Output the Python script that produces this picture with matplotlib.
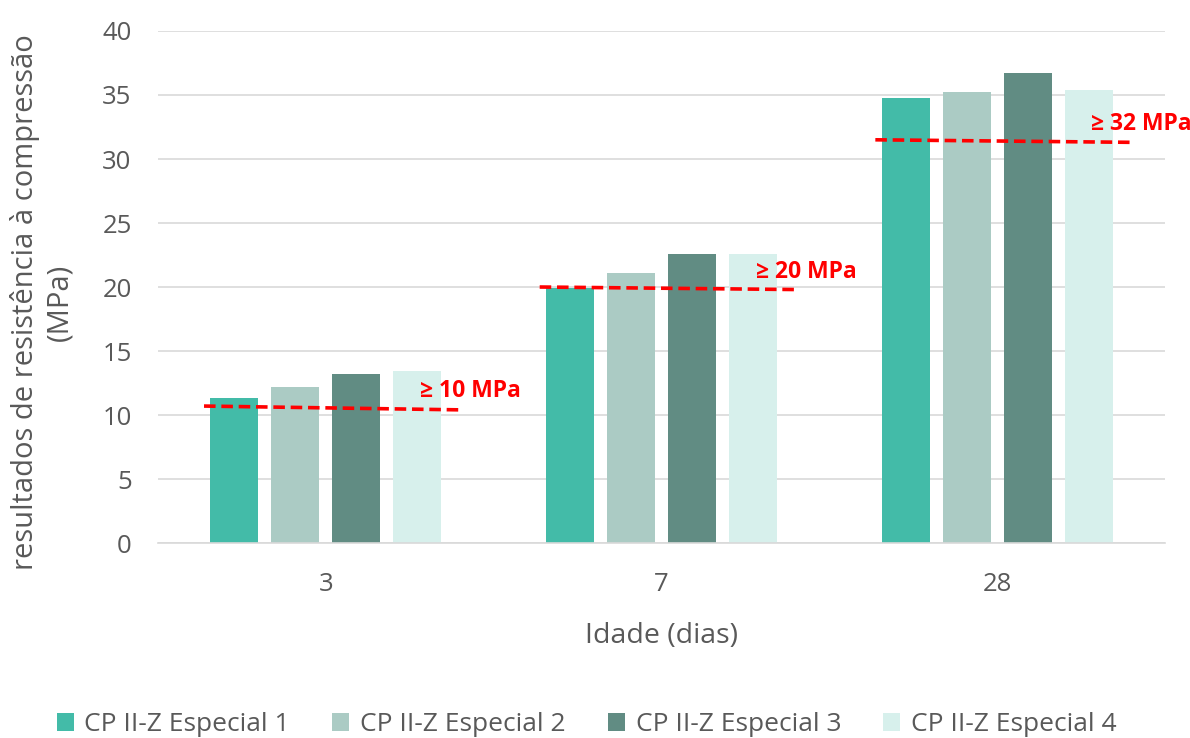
import matplotlib
matplotlib.use("Agg")
import matplotlib.pyplot as plt
import numpy as np

# ── Données ──────────────────────────────────────────────
idades = ["3", "7", "28"]
series = ["CP II-Z Especial 1", "CP II-Z Especial 2",
          "CP II-Z Especial 3", "CP II-Z Especial 4"]
esp1 = [11.3, 19.9, 34.8]
esp2 = [12.2, 21.1, 35.2]
esp3 = [13.2, 22.6, 36.7]
esp4 = [13.4, 22.6, 35.4]
valores = [esp1, esp2, esp3, esp4]

# limites normativos (linhas tracejadas, levemente inclinadas como no original)
lim_labels = ["≥ 10 MPa", "≥ 20 MPa", "≥ 32 MPa"]
lim_inicio = [10.7, 20.0, 31.5]
lim_fim = [10.4, 19.8, 31.3]

cores = ["#43BBA8", "#ABCBC4", "#618C83", "#D7F0EC"]

plt.rcParams["font.family"] = ["Open Sans", "DejaVu Sans"]
TXT = "#595959"

fig = plt.figure(figsize=(11.9, 7.38), dpi=100)
ax = fig.add_axes([0.1328, 0.2642, 0.8462, 0.6938])

x = np.arange(len(idades))
w = 0.143
step = 0.1815
for i, (vals, cor, nome) in enumerate(zip(valores, cores, series)):
    ax.bar(x + (i - 1.5) * step, vals, width=w, color=cor, label=nome, zorder=2)

for xi, lab, y0, y1 in zip(x, lim_labels, lim_inicio, lim_fim):
    ax.plot([xi - 0.363, xi + 0.408], [y0, y1], color="#FF0000", lw=2.6,
            ls=(0, (3.2, 1.6)), zorder=3)
    ax.text(xi + 0.28, (y0 + y1) / 2 + 1.3, lab, color="#FF0000",
            fontsize=16.5, fontweight="bold", ha="left", va="center", zorder=4)

ax.set_xlim(-0.5, 2.5)
ax.set_ylim(0, 40)
ax.set_yticks(range(0, 41, 5))
ax.set_xticks(x)
ax.set_xticklabels(idades)
ax.tick_params(length=0, labelsize=18.5, colors=TXT)
ax.tick_params(axis="y", pad=19)
ax.tick_params(axis="x", pad=21)
ax.grid(axis="y", color="#D9D9D9", lw=1.2, zorder=0)
ax.set_axisbelow(True)
for s in ["top", "right", "left"]:
    ax.spines[s].set_visible(False)
ax.spines["bottom"].set_color("#D9D9D9")
ax.spines["bottom"].set_linewidth(1.2)

ax.set_ylabel("resultados de resistência à compressão\n(MPa)", fontsize=21,
              color=TXT, linespacing=1.25)
ax.yaxis.set_label_coords(-0.083, 0.47)
ax.set_xlabel("Idade (dias)", fontsize=20.5, color=TXT, labelpad=18)

fig.legend(loc="lower center", ncol=4, bbox_to_anchor=(0.493, -0.031),
           frameon=False, fontsize=19, labelcolor=TXT, handlelength=0.65,
           handleheight=0.65, handletextpad=0.4, columnspacing=1.6)

fig.savefig("out.png", dpi=100)
